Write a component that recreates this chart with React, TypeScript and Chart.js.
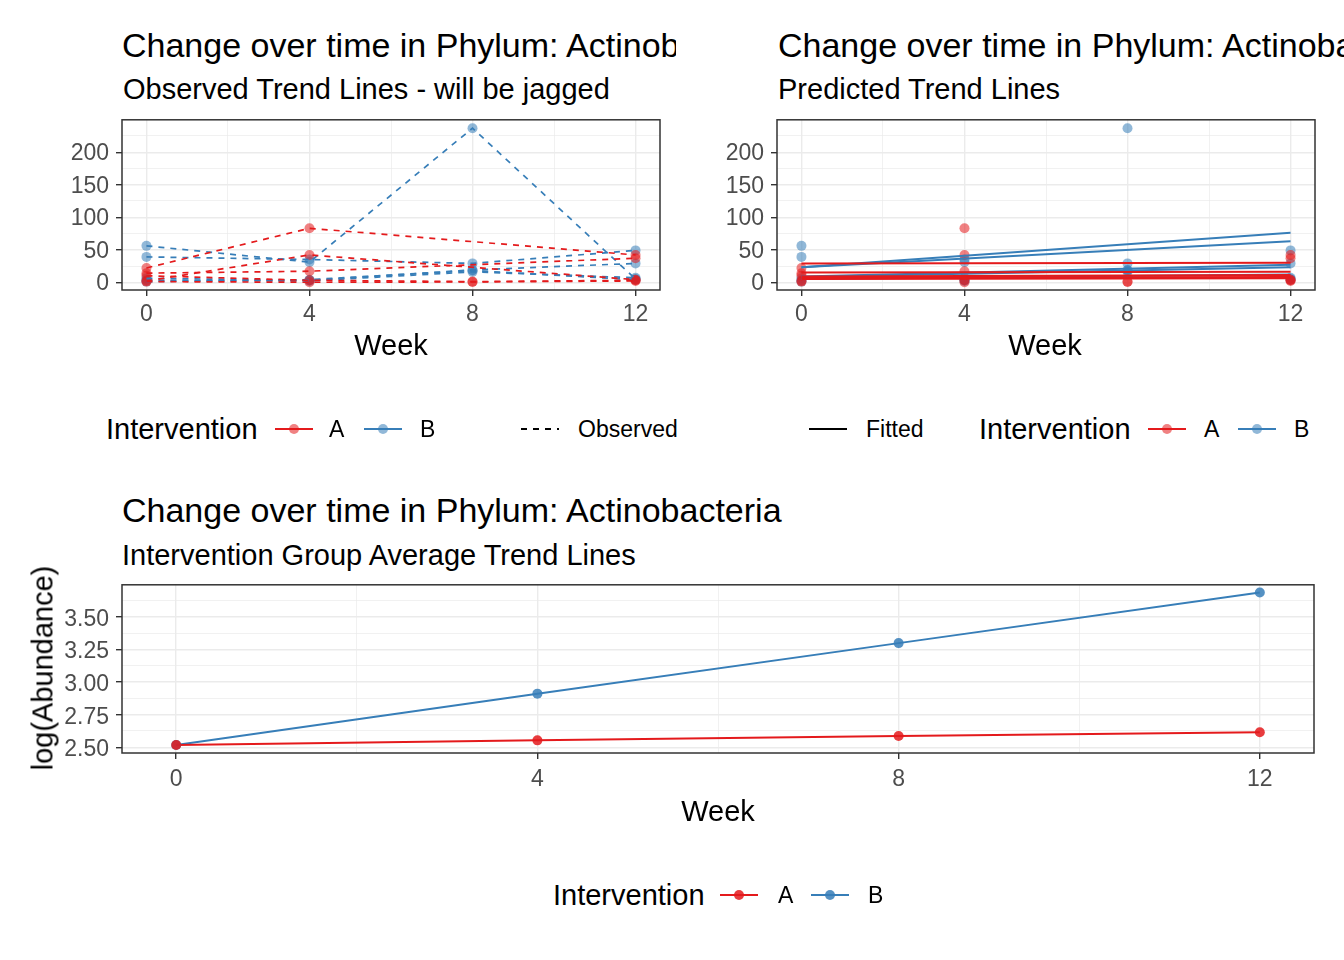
import React, { useEffect, useRef } from "react";
import { Chart, registerables } from "chart.js";
Chart.register(...registerables);

// ---------- data ----------
const weeks = [0, 4, 8, 12];
const obsA1 = [22, 83, null, 42];
const obsA2 = [2, 42, null, 4];
const obsA3 = [14, 17, null, 37];
const obsA4 = [10, 3, 1, 3];
const obsA5 = [1, 0, 0.5, 2];
const obsB1 = [56, 31, 237, 5];
const obsB2 = [39, 35, 29, 49];
const obsB3 = [6, 3, 19, 29];
const obsB4 = [3, 2, 16, 7];
const obsB5 = [1, 4, 18, 4];

const fitWeeks = [0, 12];
const fitA1 = [29, 30];
const fitA2 = [15, 16];
const fitA3 = [9, 11];
const fitA4 = [7, 8];
const fitA5 = [5, 6];
const fitB1 = [23, 76];
const fitB2 = [23, 63];
const fitB3 = [9, 27];
const fitB4 = [8, 23];
const fitB5 = [5, 12];

const avgA = [2.517, 2.553, 2.586, 2.616];
const avgB = [2.517, 2.912, 3.3, 3.689];

const weekMajor = [0, 4, 8, 12];
const weekMinor = [2, 6, 10];
const topYMajor = [0, 50, 100, 150, 200];
const topYMinor = [25, 75, 125, 175, 225];
const botYMajor = [2.5, 2.75, 3.0, 3.25, 3.5];
const botYMinor = [2.625, 2.875, 3.125, 3.375, 3.625];

// ---------- style ----------
const RED = "#E41A1C";
const BLUE = "#377EB8";
const RED_A = "rgba(228,26,28,0.55)";
const BLUE_A = "rgba(55,126,184,0.55)";
const RED_P = "rgba(228,26,28,0.85)";
const BLUE_P = "rgba(55,126,184,0.85)";
const FONT = '"Liberation Sans", Arial, Helvetica, sans-serif';
const PT_R = 5;

const isIn = (arr: number[], v: number) => arr.some((a) => Math.abs(a - v) < 1e-6);

function makeScale(
  min: number,
  max: number,
  major: number[],
  minor: number[],
  fmt: (v: number) => string,
  size: number,
  horizontal: boolean,
  pad: number,
  offset: number
) {
  const all = [...major, ...minor].sort((a, b) => a - b);
  return {
    type: "linear",
    min,
    max,
    afterBuildTicks: (s: any) => {
      s.ticks = all.map((v) => ({ value: v }));
    },
    afterFit: (s: any) => {
      if (horizontal) s.height = size;
      else s.width = size;
    },
    grid: {
      color: "#EBEBEB",
      lineWidth: (c: any) => (c.tick && isIn(major, c.tick.value) ? 1.4 : 0.7),
      tickColor: (c: any) => (c.tick && isIn(major, c.tick.value) ? "#333333" : "rgba(0,0,0,0)"),
      tickLength: 6,
      tickWidth: 1.4,
      drawTicks: true,
      drawOnChartArea: true,
    },
    border: { display: false },
    ticks: {
      autoSkip: false,
      maxRotation: 0,
      minRotation: 0,
      padding: pad,
      labelOffset: offset,
      color: "#4D4D4D",
      font: { family: FONT, size: 23 },
      callback: (v: any) => (isIn(major, Number(v)) ? fmt(Number(v)) : ""),
    },
  };
}

const borderPlugin = {
  id: "panelBorder",
  afterDraw(chart: any) {
    const { ctx, chartArea: a } = chart;
    ctx.save();
    ctx.strokeStyle = "#333333";
    ctx.lineWidth = 1.5;
    ctx.strokeRect(a.left, a.top, a.right - a.left, a.bottom - a.top);
    ctx.restore();
  },
};

const toPts = (xs: number[], ys: (number | null)[]) =>
  xs.map((x, i) => ({ x, y: ys[i] })).filter((p) => p.y !== null && p.y !== undefined);

function lineSet(xs: number[], ys: (number | null)[], color: string, dash: number[], width: number, order: number) {
  return {
    type: "scatter",
    data: toPts(xs, ys),
    showLine: true,
    borderColor: color,
    borderWidth: width,
    borderDash: dash,
    pointRadius: 0,
    fill: false,
    order,
  };
}

function pointSet(xs: number[], ys: (number | null)[], color: string, order: number) {
  return {
    type: "scatter",
    data: toPts(xs, ys),
    showLine: false,
    backgroundColor: color,
    borderWidth: 0,
    pointRadius: PT_R,
    order,
  };
}

const obsA = [obsA1, obsA2, obsA3, obsA4, obsA5];
const obsB = [obsB1, obsB2, obsB3, obsB4, obsB5];
const fitA = [fitA1, fitA2, fitA3, fitA4, fitA5];
const fitB = [fitB1, fitB2, fitB3, fitB4, fitB5];

function baseOptions(scales: any, padding: any) {
  return {
    responsive: false,
    animation: false,
    devicePixelRatio: 1,
    events: [],
    layout: { padding },
    plugins: { legend: { display: false }, tooltip: { enabled: false }, title: { display: false } },
    scales,
  };
}

function topLeftConfig() {
  const datasets: any[] = [];
  obsA.forEach((s) => datasets.push(lineSet(weeks, s, RED, [6, 6], 1.7, 0)));
  obsB.forEach((s) => datasets.push(lineSet(weeks, s, BLUE, [6, 6], 1.7, 0)));
  obsA.forEach((s) => datasets.push(pointSet(weeks, s, RED_A, 1)));
  obsB.forEach((s) => datasets.push(pointSet(weeks, s, BLUE_A, 1)));
  return {
    type: "scatter",
    data: { datasets },
    options: baseOptions(
      {
        x: makeScale(-0.6, 12.6, weekMajor, weekMinor, (v) => String(v), 50, true, 5, 0),
        y: makeScale(-11.9, 249.9, topYMajor, topYMinor, (v) => String(v), 122, false, 7, 1.5),
      },
      { top: 20, right: 12, left: 0, bottom: 0 }
    ),
    plugins: [borderPlugin],
  };
}

function topRightConfig() {
  const datasets: any[] = [];
  fitA.forEach((s) => datasets.push(lineSet(fitWeeks, s, RED, [], 2, 0)));
  fitB.forEach((s) => datasets.push(lineSet(fitWeeks, s, BLUE, [], 2, 0)));
  obsA.forEach((s) => datasets.push(pointSet(weeks, s, RED_A, 1)));
  obsB.forEach((s) => datasets.push(pointSet(weeks, s, BLUE_A, 1)));
  return {
    type: "scatter",
    data: { datasets },
    options: baseOptions(
      {
        x: makeScale(-0.6, 12.6, weekMajor, weekMinor, (v) => String(v), 50, true, 5, 0),
        y: makeScale(-11.9, 249.9, topYMajor, topYMinor, (v) => String(v), 105, false, 7, 1.5),
      },
      { top: 20, right: 29, left: 0, bottom: 0 }
    ),
    plugins: [borderPlugin],
  };
}

function bottomConfig() {
  const datasets: any[] = [
    pointSet(weeks, avgA, RED_P, 0),
    pointSet(weeks, avgB, BLUE_P, 0),
    lineSet(weeks, avgA, RED, [], 2, 1),
    lineSet(weeks, avgB, BLUE, [], 2, 1),
  ];
  return {
    type: "scatter",
    data: { datasets },
    options: baseOptions(
      {
        x: makeScale(-0.6, 12.6, weekMajor, weekMinor, (v) => String(v), 47, true, 7, 0),
        y: makeScale(2.456, 3.748, botYMajor, botYMinor, (v) => v.toFixed(2), 122, false, 7, 2.5),
      },
      { top: 20, right: 30, left: 0, bottom: 0 }
    ),
    plugins: [borderPlugin],
  };
}

function ChartCanvas(props: { left: number; top: number; width: number; height: number; make: () => any }) {
  const ref = useRef<HTMLCanvasElement | null>(null);
  useEffect(() => {
    if (!ref.current) return;
    const chart = new Chart(ref.current, props.make());
    return () => chart.destroy();
  }, []);
  return (
    <canvas
      ref={ref}
      width={props.width}
      height={props.height}
      style={{ position: "absolute", left: props.left, top: props.top, width: props.width, height: props.height }}
    />
  );
}

function Txt(props: {
  x: number;
  cy: number;
  size: number;
  text: string;
  center?: boolean;
  clip?: number;
  color?: string;
}) {
  const L = Math.round(props.size * 1.2);
  const style: any = {
    position: "absolute",
    left: props.x,
    top: props.cy - L / 2,
    height: L,
    lineHeight: L + "px",
    fontSize: props.size,
    whiteSpace: "nowrap",
    color: props.color || "#000",
  };
  if (props.center) style.transform = "translateX(-50%)";
  if (props.clip) {
    style.width = props.clip;
    style.overflow = "hidden";
  }
  return <div style={style}>{props.text}</div>;
}

function Key(props: { x: number; cy: number; color: string; dash?: boolean; point?: string }) {
  return (
    <svg width={38} height={14} style={{ position: "absolute", left: props.x, top: props.cy - 7 }}>
      <line
        x1={0}
        y1={7}
        x2={38}
        y2={7}
        stroke={props.color}
        strokeWidth={2}
        strokeDasharray={props.dash ? "6 6" : undefined}
      />
      {props.point ? <circle cx={19} cy={7} r={PT_R} fill={props.point} /> : null}
    </svg>
  );
}

export default function App() {
  return (
    <div
      style={{
        position: "absolute",
        left: 0,
        top: 0,
        width: 1344,
        height: 960,
        overflow: "hidden",
        background: "#fff",
        fontFamily: FONT,
      }}
    >
      {/* top-left */}
      <Txt x={122} cy={45} size={34} text="Change over time in Phylum: Actinobacteria" clip={554} />
      <Txt x={123} cy={89} size={29} text="Observed Trend Lines - will be jagged" />
      <ChartCanvas left={0} top={99} width={672} height={241} make={topLeftConfig} />
      <Txt x={391} cy={345} size={29} text="Week" center />
      <Txt x={106} cy={429} size={29} text="Intervention" />
      <Key x={275} cy={429} color={RED} point={RED_A} />
      <Txt x={329} cy={429} size={23} text="A" />
      <Key x={364} cy={429} color={BLUE} point={BLUE_A} />
      <Txt x={420} cy={429} size={23} text="B" />
      <Key x={521} cy={429} color="#000" dash />
      <Txt x={578} cy={429} size={23} text="Observed" />

      {/* top-right */}
      <Txt x={778} cy={45} size={34} text="Change over time in Phylum: Actinobacteria" />
      <Txt x={778} cy={89} size={29} text="Predicted Trend Lines" />
      <ChartCanvas left={672} top={99} width={672} height={241} make={topRightConfig} />
      <Txt x={1045} cy={345} size={29} text="Week" center />
      <Key x={809} cy={429} color="#000" />
      <Txt x={866} cy={429} size={23} text="Fitted" />
      <Txt x={979} cy={429} size={29} text="Intervention" />
      <Key x={1148} cy={429} color={RED} point={RED_A} />
      <Txt x={1204} cy={429} size={23} text="A" />
      <Key x={1238} cy={429} color={BLUE} point={BLUE_A} />
      <Txt x={1294} cy={429} size={23} text="B" />

      {/* bottom */}
      <Txt x={122} cy={510} size={34} text="Change over time in Phylum: Actinobacteria" />
      <Txt x={122} cy={555} size={29} text="Intervention Group Average Trend Lines" />
      <ChartCanvas left={0} top={564} width={1344} height={236} make={bottomConfig} />
      <Txt x={718} cy={811} size={29} text="Week" center />
      <div
        style={{
          position: "absolute",
          left: 43,
          top: 668,
          fontSize: 29,
          lineHeight: "35px",
          whiteSpace: "nowrap",
          transform: "translate(-50%, -50%) rotate(-90deg)",
        }}
      >
        log(Abundance)
      </div>
      <Txt x={553} cy={895} size={29} text="Intervention" />
      <Key x={720} cy={895} color={RED} point={RED_P} />
      <Txt x={778} cy={895} size={23} text="A" />
      <Key x={811} cy={895} color={BLUE} point={BLUE_P} />
      <Txt x={868} cy={895} size={23} text="B" />
    </div>
  );
}
